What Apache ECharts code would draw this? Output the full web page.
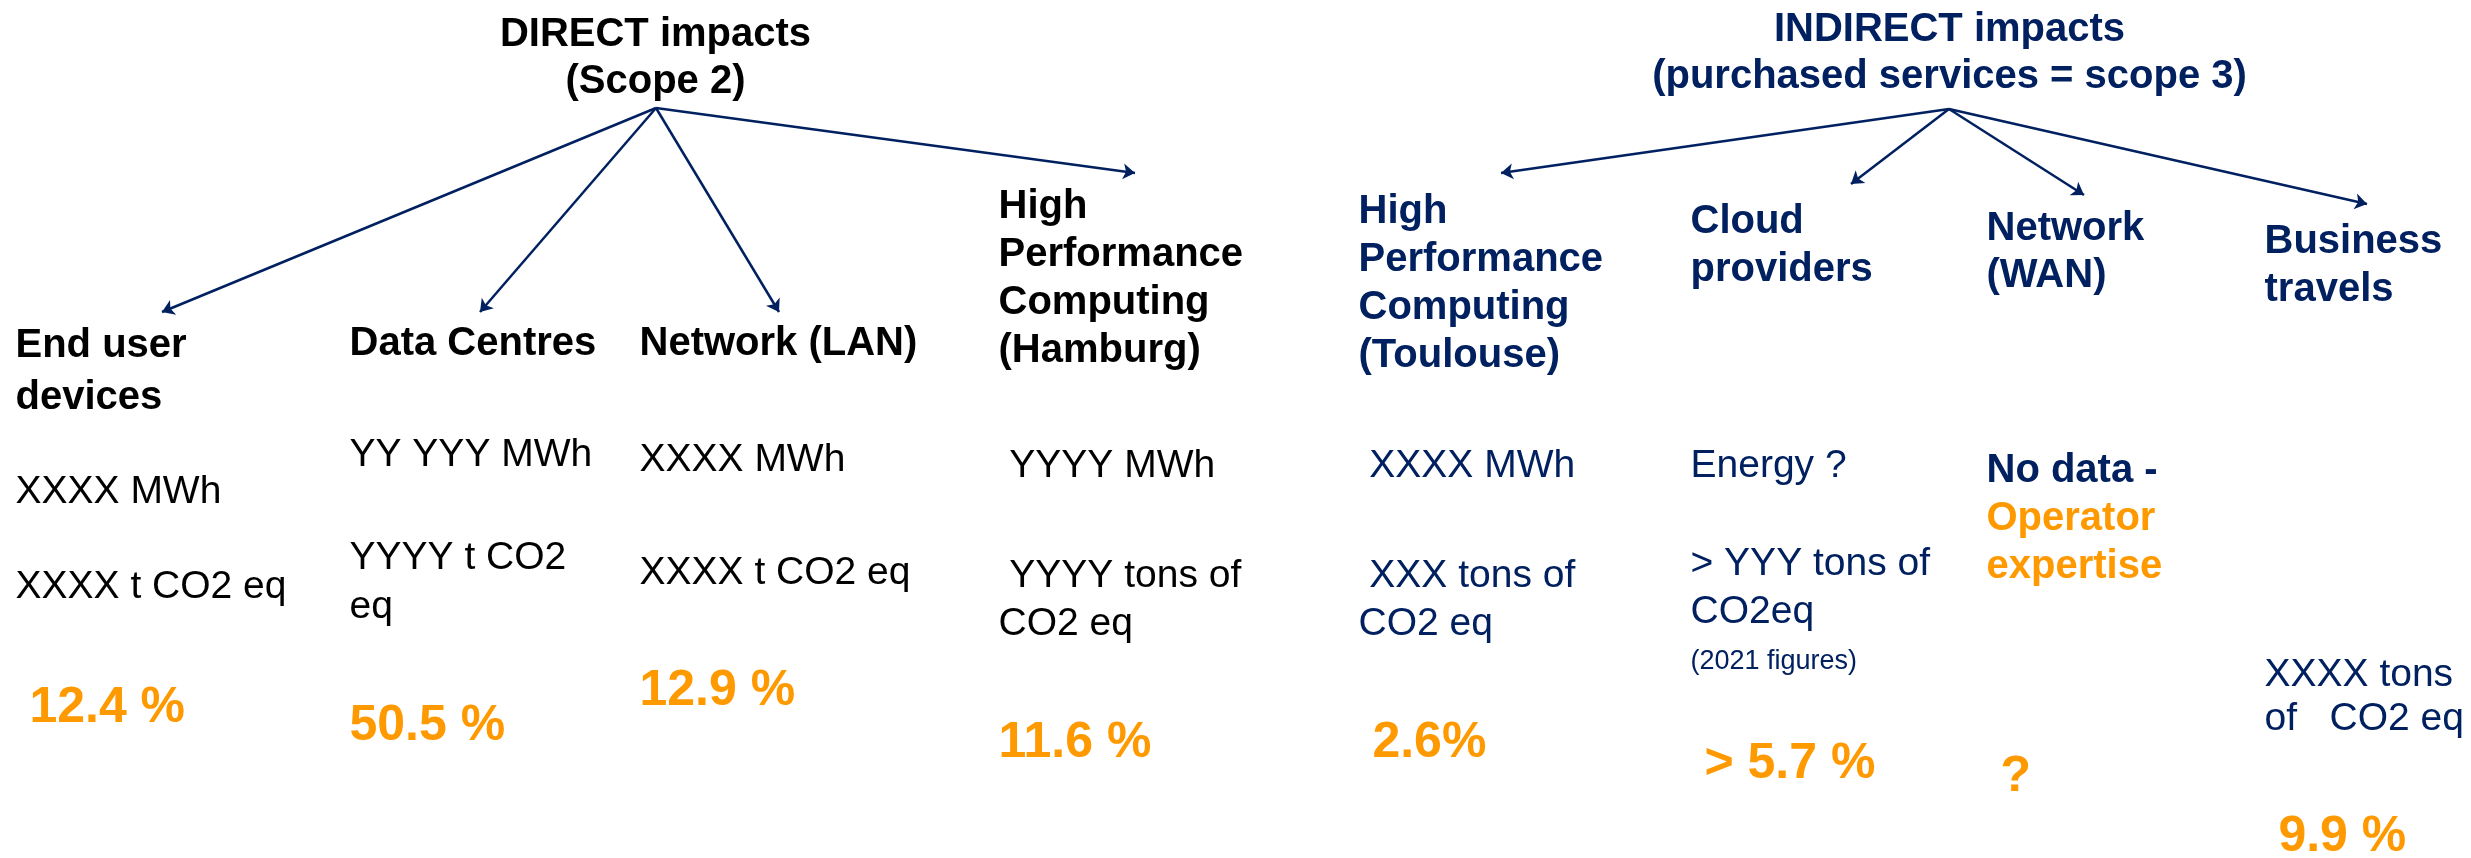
<!DOCTYPE html>
<html>
<head>
<meta charset="utf-8">
<script src="https://cdn.jsdelivr.net/npm/echarts@6/dist/echarts.min.js"></script>
<style>
  html, body { margin: 0; padding: 0; background: #fff; }
  #main { width: 2471px; height: 858px; }
</style>
</head>
<body>
<div id="main"></div>
<script>
const BLACK = '#000000';
const NAVY = '#002060';
const ORANGE = '#FF9900';
const FONT = '"Liberation Sans", Arial, sans-serif';

// ---- content ----
const scopeTitles = ['DIRECT impacts\n(Scope 2)', 'INDIRECT impacts\n(purchased services = scope 3)'];
const categories = [
  'End user\ndevices', 'Data Centres', 'Network (LAN)', 'High\nPerformance\nComputing\n(Hamburg)',
  'High\nPerformance\nComputing\n(Toulouse)', 'Cloud\nproviders', 'Network\n(WAN)', 'Business\ntravels'
];
const energy = ['XXXX MWh', 'YY YYY MWh', 'XXXX MWh', ' YYYY MWh', ' XXXX MWh', 'Energy ?', '', ''];
const emissions = [
  'XXXX t CO2 eq', 'YYYY t CO2\neq', 'XXXX t CO2 eq', ' YYYY tons of\nCO2 eq',
  ' XXX tons of\nCO2 eq', '> YYY tons of\nCO2eq', '', 'XXXX tons\nof   CO2 eq'
];
const notes = ['', '', '', '', '', '(2021 figures)', '', ''];
const shares = [' 12.4 %', '50.5 %', '12.9 %', '11.6 %', ' 2.6%', ' > 5.7 %', ' ?', ' 9.9 %'];
const noData = 'No data -';
const noDataSource = 'Operator\nexpertise';
const scopeOf = [0, 0, 0, 0, 1, 1, 1, 1];

// ---- layout, in the pixel space of the hidden axes ----
const titlePos = [[656, 12], [1950, 7]];
const roots = [[656, 108], [1949, 109]];
const arrowEnds = [[162, 312], [480, 312], [779, 312], [1135, 173], [1501, 173], [1851, 184], [2084, 195], [2367, 204]];
const colX = [16, 350, 640, 999, 1359, 1691, 1987, 2265];
const catTop = [320, 320, 320, 183, 188, 198, 206, 218];
const catLineH = [52, 48, 48, 48, 48, 48, 47, 48];
const energyTop = [469, 432, 437, 443, 443, 443, 447, 0];
const emisTop = [564, 534, 550, 553, 553, 541, 0, 654];
const emisLineH = [48, 49, 48, 48, 48, 48, 48, 44];
const noteTop = [0, 0, 0, 0, 0, 647, 0, 0];
const shareTop = [679, 697, 662, 714, 714, 735, 748, 808];

const styles = {
  title: { fontSize: 40, fontWeight: 'bold', lineHeight: 47, align: 'center' },
  cat: { fontSize: 40, fontWeight: 'bold', lineHeight: 48 },
  val: { fontSize: 39, fontWeight: 'normal', lineHeight: 48 },
  note: { fontSize: 27, fontWeight: 'normal', lineHeight: 30 },
  pct: { fontSize: 50, fontWeight: 'bold', lineHeight: 60 },
  src: { fontSize: 40, fontWeight: 'bold', lineHeight: 48 }
};

function textItem(x, y, text, style, color, extra) {
  return {
    value: [x, y],
    label: Object.assign({
      show: true,
      formatter: text,
      position: [0, 0],
      align: 'left',
      verticalAlign: 'top',
      color: color,
      fontFamily: FONT
    }, styles[style], extra || {})
  };
}

const items = [];
scopeTitles.forEach((t, i) => {
  items.push(textItem(titlePos[i][0], titlePos[i][1], t, 'title', i ? NAVY : BLACK));
});
categories.forEach((c, i) => {
  const col = scopeOf[i] ? NAVY : BLACK;
  items.push(textItem(colX[i], catTop[i], c, 'cat', col, { lineHeight: catLineH[i] }));
  if (energy[i]) items.push(textItem(colX[i], energyTop[i], energy[i], 'val', col));
  if (emissions[i]) items.push(textItem(colX[i], emisTop[i], emissions[i], 'val', col, { lineHeight: emisLineH[i] }));
  if (notes[i]) items.push(textItem(colX[i], noteTop[i], notes[i], 'note', col));
  items.push(textItem(colX[i], shareTop[i], shares[i], 'pct', ORANGE));
});
// WAN column has no figures
items.push(textItem(colX[6], energyTop[6], noData, 'src', NAVY));
items.push(textItem(colX[6], energyTop[6] + 48, noDataSource, 'src', ORANGE));

const arrows = arrowEnds.map((e, i) => ({ coords: [roots[scopeOf[i]], e] }));

const chart = echarts.init(document.getElementById('main'));
chart.setOption({
  animation: false,
  backgroundColor: '#ffffff',
  grid: { left: 0, right: 0, top: 0, bottom: 0 },
  xAxis: { type: 'value', min: 0, max: 2471, show: false },
  yAxis: { type: 'value', min: 0, max: 858, inverse: true, show: false },
  series: [
    {
      type: 'lines',
      coordinateSystem: 'cartesian2d',
      silent: true,
      symbol: ['none', 'arrow'],
      symbolSize: 12,
      lineStyle: { color: NAVY, width: 2.5, opacity: 1, curveness: 0 },
      data: arrows
    },
    {
      type: 'scatter',
      silent: true,
      symbol: 'circle',
      symbolSize: 1,
      itemStyle: { color: 'rgba(0,0,0,0)', opacity: 1 },
      data: items
    }
  ]
});
</script>
</body>
</html>
